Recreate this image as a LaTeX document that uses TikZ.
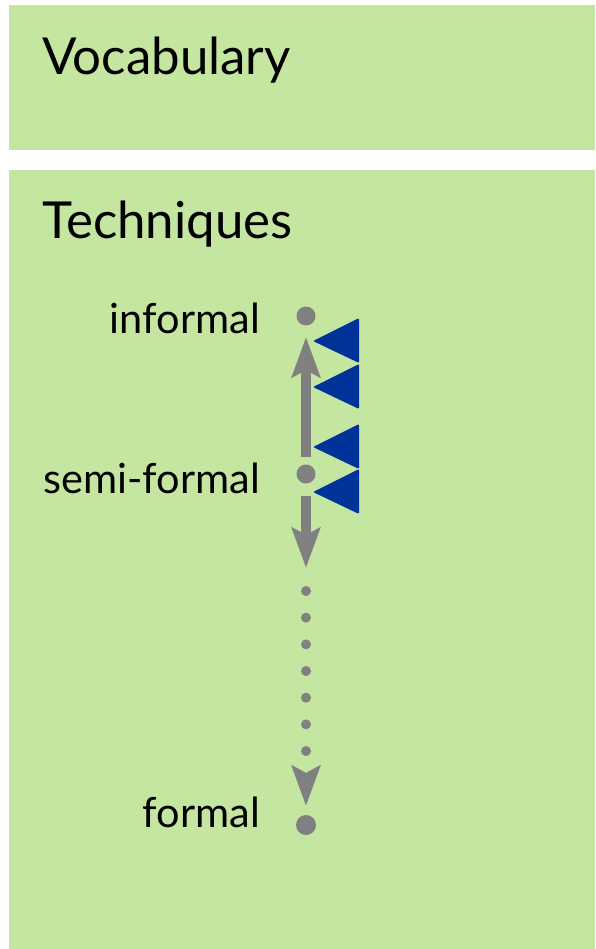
\documentclass[tikz,border=0pt]{standalone}
\usepackage{fontspec}
\setmainfont{Lato}
\usetikzlibrary{arrows.meta}
\definecolor{panelgreen}{RGB}{197,230,161}
\definecolor{levelgray}{RGB}{128,128,128}
\definecolor{flagblue}{RGB}{0,51,153}
\tikzset{
  panel/.style={fill=panelgreen, draw=none},
  heading/.style={anchor=base west, inner sep=0pt, font=\fontsize{51}{55}\selectfont},
  level/.style={anchor=base east, inner sep=0pt, font=\fontsize{41.5}{45}\selectfont},
  leveldot/.style={circle, fill=levelgray, inner sep=0pt, minimum size=#1},
  bigarrow/.style={draw=levelgray, line width=10pt,
    -{Stealth[length=40pt, width=28pt, inset=7pt, fill=levelgray]}},
  flag/.style={fill=flagblue, rounded corners=1.2pt},
}
\begin{document}
\begin{tikzpicture}[x=1pt, y=-1pt]
  \useasboundingbox (0,0) rectangle (595,949);
  % panels
  \fill[panel] (9,5) rectangle (595,150);
  \fill[panel] (9,170) rectangle (595,949);
  \node[heading] (voc) at (42,75) {Vocabulary};
  \node[heading] (tech) at (42,239) {Techniques};

  % scale of formality
  \node[leveldot=19pt] (inf) at (306,316) {};
  \node[leveldot=19pt] (semi) at (306,474) {};
  \node[leveldot=20pt] (form) at (306,825) {};
  \node[level] (linf) at (260,333) {informal};
  \node[level] (lsemi) at (260,493) {semi-formal};
  \node[level] (lform) at (260,827) {formal};

  \coordinate (upstart) at (306,457);
  \coordinate (uptip) at (306,337);
  \coordinate (dnstart) at (306,496);
  \coordinate (dntip) at (306,568);
  \coordinate (dotstart) at (306,591);
  \coordinate (dottip) at (306,806);

  \draw[bigarrow] (upstart) -- (uptip);
  \draw[bigarrow] (dnstart) -- (dntip);
  \draw[bigarrow, line cap=round, dash pattern=on 0pt off 26.67pt] (dotstart) -- (dottip);

  % markers
  \foreach \ty in {341,387,447,492}{
    \fill[flag] (313,\ty) -- (359,\ty-23) -- (359,\ty+22) -- cycle;
  }
\end{tikzpicture}
\end{document}
